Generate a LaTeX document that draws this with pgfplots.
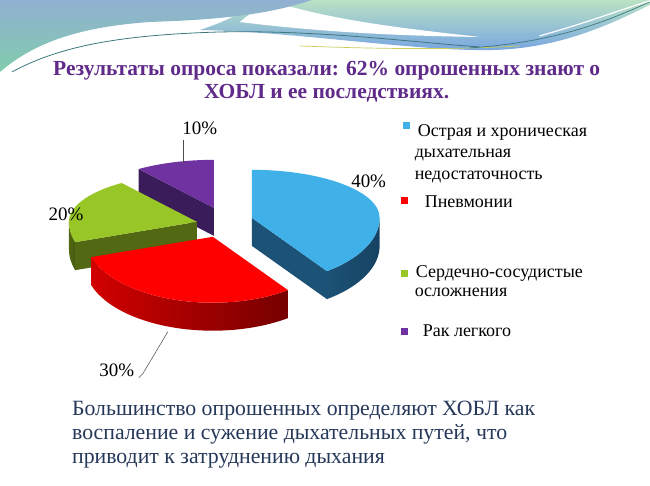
\documentclass[border=0pt]{standalone}
\usepackage{fontspec}
\setmainfont{Liberation Serif}
\usepackage{pgfplots}
\usepackage{pgfplotstable}
\pgfplotsset{compat=1.18}

\definecolor{titlecol}{RGB}{96,42,138}
\definecolor{bodycol}{RGB}{38,56,90}
\definecolor{cA}{RGB}{64,176,232}\definecolor{cAs}{RGB}{28,82,118}\definecolor{cAs2}{RGB}{22,66,98}
\definecolor{cB}{RGB}{255,0,0}\definecolor{cBs}{RGB}{210,0,0}\definecolor{cBs2}{RGB}{118,0,0}
\definecolor{cC}{RGB}{152,198,38}\definecolor{cCs}{RGB}{82,104,18}\definecolor{cCs2}{RGB}{70,90,15}
\definecolor{cD}{RGB}{112,50,160}\definecolor{cDs}{RGB}{58,28,90}\definecolor{cDs2}{RGB}{45,20,72}
\definecolor{bandtop}{RGB}{146,176,210}
\definecolor{bandbot}{RGB}{128,204,172}
\definecolor{bandRtop}{RGB}{186,226,196}
\definecolor{bandRbot}{RGB}{118,164,226}
\definecolor{linecol}{RGB}{60,120,125}

% values (percent) and explosion offsets of each slice (px, y downwards)
\pgfplotstableread{
value dx dy
40 38 -10
30 -1 9
20 -17 -6
10 0 -20
}\piedata

\def\RX{128}\def\RYB{48}\def\RYF{66}\def\D{28}\def\PX{214}\def\PY{228}

\newcommand\ellpt[3]{%
  \pgfmathsetmacro\ptx{#2+\RX*cos(#1)}%
  \pgfmathsetmacro\pty{#3+ifthenelse(sin(#1)>0,\RYB,\RYF)*sin(#1)}%
}
\newcommand\arcpath[2]{%
  \pgfmathsetmacro\AAA{#1}\pgfmathsetmacro\BBB{#2}%
  \def\tmppath{}%
  \ifdim\AAA pt>0pt
    \pgfmathsetmacro\EEE{max(\BBB,0)}%
    \edef\tmppath{\tmppath arc[start angle=\AAA,end angle=\EEE,x radius=\RX pt,y radius=\RYB pt]}%
  \fi
  \pgfmathsetmacro\SSS{min(\AAA,0)}\pgfmathsetmacro\EEE{max(\BBB,-180)}%
  \ifdim\SSS pt>\EEE pt
    \edef\tmppath{\tmppath arc[start angle=\SSS,end angle=\EEE,x radius=\RX pt,y radius=\RYF pt]}%
  \fi
  \ifdim\BBB pt<-180pt
    \pgfmathsetmacro\SSS{min(\AAA,-180)}%
    \edef\tmppath{\tmppath arc[start angle=\SSS,end angle=\BBB,x radius=\RX pt,y radius=\RYB pt]}%
  \fi
}
\newcommand\drawslice[7]{%
  \pgfmathsetmacro\aA{#1}\pgfmathsetmacro\aB{#2}%
  \pgfmathsetmacro\cx{#3}\pgfmathsetmacro\cy{#4}%
  \pgfmathsetmacro\cyd{\cy-\D}%
  \ellpt{\aA}{\cx}{\cy}\let\xA\ptx\let\yA\pty
  \pgfmathsetmacro\yAd{\yA-\D}%
  \ellpt{\aB}{\cx}{\cy}\let\xB\ptx\let\yB\pty
  \pgfmathsetmacro\yBd{\yB-\D}%
  \pgfmathsetmacro\cosA{cos(\aA)}%
  \ifdim\cosA pt<-0.01pt
    \fill[#6] (axis cs:\cx,\cy) -- (axis cs:\xA,\yA) -- (axis cs:\xA,\yAd) -- (axis cs:\cx,\cyd) -- cycle;
  \fi
  \pgfmathsetmacro\cosB{cos(\aB)}%
  \ifdim\cosB pt>0.01pt
    \fill[#6] (axis cs:\cx,\cy) -- (axis cs:\xB,\yB) -- (axis cs:\xB,\yBd) -- (axis cs:\cx,\cyd) -- cycle;
  \fi
  \pgfmathsetmacro\lo{max(\aB,-180)}\pgfmathsetmacro\hi{min(\aA,0)}%
  \ifdim\hi pt>\lo pt
    \ellpt{\hi}{\cx}{\cy}\let\xH\ptx\let\yH\pty
    \ellpt{\lo}{\cx}{\cy}\let\xL\ptx\let\yL\pty
    \pgfmathsetmacro\yLd{\yL-\D}%
    \shade[left color=#6,right color=#7] (axis cs:\xH,\yH) arc[start angle=\hi,end angle=\lo,x radius=\RX pt,y radius=\RYF pt] -- (axis cs:\xL,\yLd) arc[start angle=\lo,end angle=\hi,x radius=\RX pt,y radius=\RYF pt] -- cycle;
  \fi
  \arcpath{\aA}{\aB}%
  \fill[#5] (axis cs:\cx,\cy) -- (axis cs:\xA,\yA) \tmppath -- cycle;
}

\begin{document}
\begin{tikzpicture}
\begin{axis}[
  width=650pt, height=486pt, scale only axis,
  xmin=0, xmax=650, ymin=-486, ymax=0,
  axis lines=none, clip=false, disabledatascaling,
]
\pgfplotsextra{%
  % background
  \fill[white] (axis cs:0,0) rectangle (axis cs:650,-486);
  % decorative waves
  \shade[top color=bandRtop,bottom color=bandRbot]
    (axis cs:200,-30) .. controls (axis cs:300,-32) and (axis cs:420,-52) .. (axis cs:495,-50)
    .. controls (axis cs:560,-48) and (axis cs:610,-25) .. (axis cs:650,-5)
    -- (axis cs:650,0) -- (axis cs:260,0) .. controls (axis cs:245,-12) and (axis cs:225,-22) .. (axis cs:200,-30) -- cycle;
  \fill[white]
    (axis cs:268,0) .. controls (axis cs:330,-20) and (axis cs:400,-28) .. (axis cs:480,-37)
    .. controls (axis cs:400,-36) and (axis cs:320,-32) .. (axis cs:240,-22) -- cycle;
  \shade[top color=bandtop,bottom color=bandbot]
    (axis cs:0,0) -- (axis cs:312,0) .. controls (axis cs:265,-16) and (axis cs:210,-20) .. (axis cs:150,-22)
    .. controls (axis cs:80,-27) and (axis cs:35,-42) .. (axis cs:0,-72) -- cycle;
  \draw[linecol, line width=0.8pt] (axis cs:12,-72) .. controls (axis cs:60,-46) and (axis cs:120,-35) .. (axis cs:220,-32)
    .. controls (axis cs:320,-30) and (axis cs:410,-42) .. (axis cs:480,-47);
  \draw[color={rgb,255:red,200;green,205;blue,90}, line width=0.7pt] (axis cs:300,-46) .. controls (axis cs:380,-49) and (axis cs:450,-50) .. (axis cs:520,-46);
  \draw[linecol, line width=0.7pt] (axis cs:470,-48) .. controls (axis cs:560,-42) and (axis cs:610,-20) .. (axis cs:650,-2);
  \draw[white, line width=1.2pt] (axis cs:540,-36) .. controls (axis cs:590,-22) and (axis cs:620,-10) .. (axis cs:650,-1);
  % pie data
  \pgfplotstablegetelem{0}{value}\of\piedata\let\vA\pgfplotsretval
  \pgfplotstablegetelem{1}{value}\of\piedata\let\vB\pgfplotsretval
  \pgfplotstablegetelem{2}{value}\of\piedata\let\vC\pgfplotsretval
  \pgfplotstablegetelem{3}{value}\of\piedata\let\vD\pgfplotsretval
  \pgfplotstablegetelem{0}{dx}\of\piedata\let\xoA\pgfplotsretval
  \pgfplotstablegetelem{1}{dx}\of\piedata\let\xoB\pgfplotsretval
  \pgfplotstablegetelem{2}{dx}\of\piedata\let\xoC\pgfplotsretval
  \pgfplotstablegetelem{3}{dx}\of\piedata\let\xoD\pgfplotsretval
  \pgfplotstablegetelem{0}{dy}\of\piedata\let\yoA\pgfplotsretval
  \pgfplotstablegetelem{1}{dy}\of\piedata\let\yoB\pgfplotsretval
  \pgfplotstablegetelem{2}{dy}\of\piedata\let\yoC\pgfplotsretval
  \pgfplotstablegetelem{3}{dy}\of\piedata\let\yoD\pgfplotsretval
  \pgfmathsetmacro\angA{90}%
  \pgfmathsetmacro\angB{\angA-3.6*\vA}%
  \pgfmathsetmacro\angC{\angB-3.6*\vB}%
  \pgfmathsetmacro\angD{\angC-3.6*\vC}%
  \pgfmathsetmacro\angE{\angD-3.6*\vD}%
  \drawslice{\angD}{\angE}{\PX+\xoD}{-(\PY+\yoD)}{cD}{cDs}{cDs2}
  \drawslice{\angC}{\angD}{\PX+\xoC}{-(\PY+\yoC)}{cC}{cCs}{cCs2}
  \drawslice{\angA}{\angB}{\PX+\xoA}{-(\PY+\yoA)}{cA}{cAs}{cAs2}
  \drawslice{\angB}{\angC}{\PX+\xoB}{-(\PY+\yoB)}{cB}{cBs}{cBs2}
  % data labels
  \draw[black!70, line width=0.5pt] (axis cs:183,-140) -- (axis cs:183,-163);
  \draw[black!70, line width=0.5pt] (axis cs:139,-378) -- (axis cs:143,-374) -- (axis cs:168,-332);
  \node[font=\fontsize{19}{22}\selectfont, inner sep=0pt] at (axis cs:200,-128) {10\%};
  \node[font=\fontsize{19}{22}\selectfont, inner sep=0pt] at (axis cs:369,-181) {40\%};
  \node[font=\fontsize{19}{22}\selectfont, inner sep=0pt] at (axis cs:66,-215) {20\%};
  \node[font=\fontsize{19}{22}\selectfont, inner sep=0pt] at (axis cs:117,-371) {30\%};
  % legend
  \fill[cA] (axis cs:403,-122) rectangle (axis cs:410,-129);
  \fill[cB] (axis cs:401,-197) rectangle (axis cs:408,-204);
  \fill[cC] (axis cs:401,-270) rectangle (axis cs:408,-277);
  \fill[cD] (axis cs:401,-328) rectangle (axis cs:408,-335);
  \begingroup
  \tikzset{every node/.style={font=\fontsize{18}{21}\selectfont, inner sep=0pt, anchor=base west}}
  \node at (axis cs:418,-137) {Острая и хроническая};
  \node at (axis cs:415,-158) {дыхательная};
  \node at (axis cs:415,-180) {недостаточность};
  \node at (axis cs:425,-208) {Пневмонии};
  \node at (axis cs:416,-278) {Сердечно-сосудистые};
  \node at (axis cs:415,-297) {осложнения};
  \node at (axis cs:423,-337) {Рак легкого};
  \endgroup
  % title
  \node[font=\bfseries\fontsize{21.5}{25}\selectfont, text=titlecol, inner sep=0pt, anchor=base] at (axis cs:327,-76) {Результаты опроса показали: 62\% опрошенных знают о};
  \node[font=\bfseries\fontsize{21.5}{25}\selectfont, text=titlecol, inner sep=0pt, anchor=base] at (axis cs:327,-99) {ХОБЛ и ее последствиях.};
  % bottom text
  \begingroup
  \tikzset{every node/.style={font=\fontsize{21.8}{26}\selectfont, text=bodycol, inner sep=0pt, anchor=base west}}
  \node at (axis cs:72,-416) {Большинство опрошенных определяют ХОБЛ как};
  \node at (axis cs:72,-440) {воспаление и сужение дыхательных путей, что};
  \node at (axis cs:72,-464) {приводит к затруднению дыхания};
  \endgroup
}
\end{axis}
\end{tikzpicture}
\end{document}
